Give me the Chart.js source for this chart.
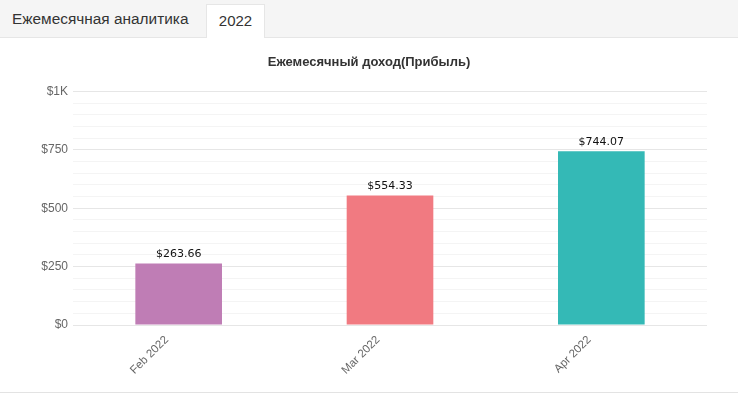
<!DOCTYPE html>
<html lang="ru">
<head>
<meta charset="UTF-8">
<script src="https://cdn.jsdelivr.net/npm/chart.js"></script>
<title>Ежемесячная аналитика</title>
<style>
  html, body { margin: 0; padding: 0; background: #fff; }
  body { width: 738px; height: 394px; overflow: hidden; font-family: "Liberation Sans", Arial, sans-serif; }
  .tabs { position: relative; height: 37px; background: #f5f5f5; border-bottom: 1px solid #e6e6e6; }
  .tab { position: absolute; top: 0; height: 37px; line-height: 37px; font-size: 15.4px; color: #333; }
  .tab.first { left: 12px; }
  .tab.active { left: 206px; top: 4px; height: 34px; line-height: 32px; width: 59px; text-align: center;
    font-size: 15px; background: #fff; border: 1px solid #e6e6e6; border-bottom: none; box-sizing: border-box; }
  .wrap { position: relative; width: 738px; height: 354px; border-bottom: 1px solid #e3e3e3; }
</style>
</head>
<body>
<div class="tabs">
  <div class="tab first">Ежемесячная аналитика</div>
  <div class="tab active">2022</div>
</div>
<div class="wrap"><canvas id="myChart"></canvas></div>
<script>
// данные
const months = ['Feb 2022', 'Mar 2022', 'Apr 2022'];
const profit = [263.66, 554.33, 744.07];
const barColors = ['#bf7db5', '#f17a81', '#34b9b6'];
const yTickLabels = { 0: '$0', 250: '$250', 500: '$500', 750: '$750', 1000: '$1K' };

// подписи над столбцами
const valueLabels = {
    id: 'valueLabels',
    afterDatasetsDraw(chart) {
        const c = chart.ctx;
        const meta = chart.getDatasetMeta(0);
        c.save();
        c.font = '11px "DejaVu Sans", sans-serif';
        c.fillStyle = '#111';
        c.textAlign = 'center';
        c.textBaseline = 'bottom';
        meta.data.forEach(function (bar, i) {
            c.fillText('$' + profit[i].toFixed(2), bar.x, bar.y - 4);
        });
        c.restore();
    }
};

const ctx = document.getElementById('myChart');
const myChart = new Chart(ctx, {
    type: 'bar',
    data: {
        labels: months,
        datasets: [{
            label: 'Прибыль',
            data: profit,
            backgroundColor: barColors,
            borderWidth: 0,
            categoryPercentage: 1,
            barPercentage: 0.41
        }]
    },
    options: {
        responsive: true,
        maintainAspectRatio: false,
        animation: false,
        layout: { padding: 0 },
        plugins: {
            legend: { display: false },
            tooltip: { enabled: false },
            title: {
                display: true,
                text: 'Ежемесячный доход(Прибыль)',
                color: '#333',
                font: { family: '"Liberation Sans", Arial, sans-serif', size: 13, weight: 'bold' },
                padding: { top: 17, bottom: 21 }
            }
        },
        scales: {
            x: {
                grid: { display: false, drawTicks: false },
                border: { display: false },
                ticks: {
                    color: '#666',
                    font: { family: '"Liberation Sans", Arial, sans-serif', size: 11.5 },
                    minRotation: 45,
                    maxRotation: 45,
                    labelOffset: -12,
                    padding: 8
                },
                afterFit(scale) { scale.height = 67; }
            },
            y: {
                min: 0,
                max: 1000,
                border: { display: false },
                grid: {
                    drawTicks: false,
                    color(c) { return c.tick && c.tick.value % 250 === 0 ? '#e6e6e6' : '#f4f4f4'; },
                    lineWidth: 1
                },
                ticks: {
                    stepSize: 50,
                    autoSkip: false,
                    color: '#666',
                    padding: 5,
                    font: { family: '"Liberation Sans", Arial, sans-serif', size: 12 },
                    callback(v) { return yTickLabels[v] !== undefined ? yTickLabels[v] : ''; }
                },
                afterFit(scale) { scale.width = 73; }
            },
            // пустая ось справа, чтобы оставить отступ
            yRight: {
                position: 'right',
                display: true,
                grid: { display: false, drawTicks: false },
                border: { display: false },
                ticks: { display: false },
                afterFit(scale) { scale.width = 31; }
            }
        }
    },
    plugins: [valueLabels]
});
</script>
</body>
</html>
